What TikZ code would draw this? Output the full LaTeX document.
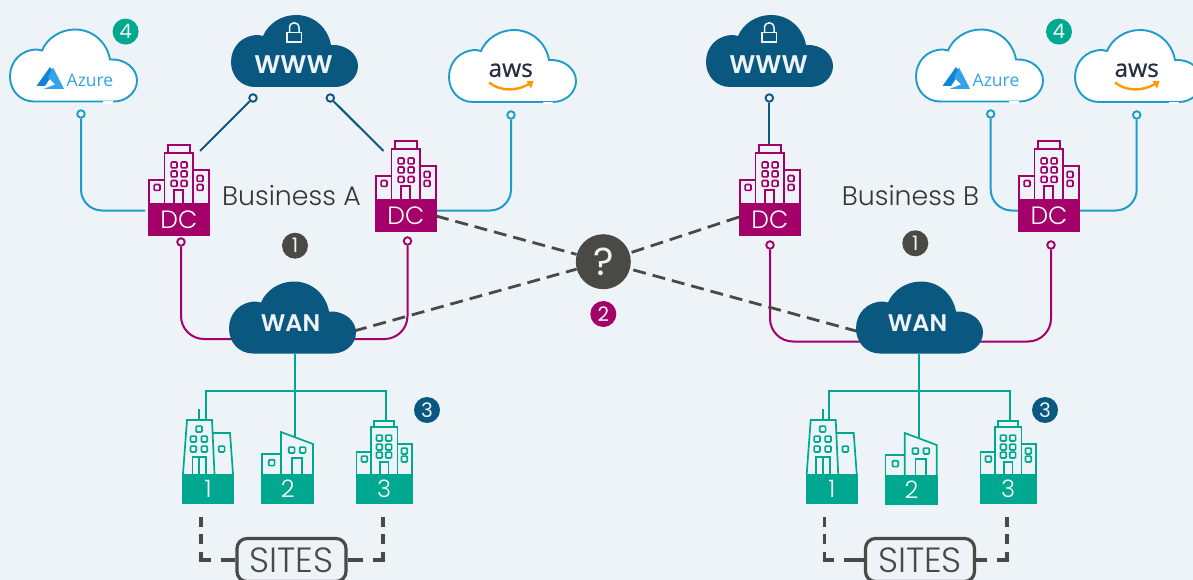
\documentclass[tikz,border=0pt]{standalone}
\usepackage{fontspec}
\setmainfont{Poppins Light}[BoldFont=Poppins SemiBold]
\newfontfamily\logofont{Open Sans}
\newfontfamily\awsfont[FakeBold=0.6]{Open Sans}
\newfontfamily\markfont{Poppins}
\usetikzlibrary{backgrounds}
\definecolor{paper}{HTML}{EEF3F8}
\definecolor{navy}{HTML}{0A577F}
\definecolor{plum}{HTML}{A4006A}
\definecolor{jade}{HTML}{00A88F}
\definecolor{slate}{HTML}{4A4945}
\definecolor{sky}{HTML}{1F9CC9}
\definecolor{ink}{HTML}{363636}
\definecolor{azuredark}{HTML}{0F84DC}
\definecolor{azurelight}{HTML}{35A3E8}
\definecolor{awsdark}{HTML}{232F3E}
\definecolor{awsorange}{HTML}{FF9900}
\newcommand{\win}[2]{\draw[rounded corners=1pt] (#1-2.9,#2-2.9) rectangle ++(5.8,5.8);}
\newcommand{\sz}[1]{\fontsize{#1}{#1}\selectfont}
\tikzset{
  cloudoutline/.style={insert path={(24,72) .. controls (10,72) and (0,61) .. (0,47) .. controls (0,32) and (11,20) .. (27,20) -- (32,21) .. controls (37,9) and (50,0) .. (65,0) .. controls (83,0) and (97,13) .. (100,30) .. controls (115,29) and (127,39) .. (127,51) .. controls (127,63) and (116,72) .. (104,72) -- cycle}},
  pin/.style={circle, draw, fill=paper, line width=1.9pt, minimum size=7.5pt, inner sep=0pt},
  netlink/.style={navy, line width=2pt},
  skylink/.style={sky, line width=2pt, rounded corners=21pt},
  wanlink/.style={plum, line width=2pt, rounded corners=23pt},
  sitelink/.style={jade, line width=2pt},
  askdash/.style={slate, line width=2.8pt, dash pattern=on 13pt off 7pt},
  sitedash/.style={slate, line width=3.8pt, dash pattern=on 10pt off 7pt on 10pt off 8pt on 18pt off 10pt on 20pt},
  badge/.style={circle, minimum size=26pt, inner sep=0pt, text=paper, font=\markfont\sz{20}},
  bigtext/.style={text=ink, font=\sz{26.8}},
  sitesbox/.style={draw=slate, line width=3.2pt, rounded corners=10pt, text=slate, minimum width=109pt, minimum height=43pt, inner sep=0pt, font=\sz{35}},
  band/.style={anchor=north west, inner sep=0pt, text=white},
  wwwcloud/.pic={
    \path[fill=navy, cloudoutline];
    \draw[paper, line width=1.5pt] (56,17.5) rectangle (70.5,27);
    \draw[paper, line width=1.5pt] (58.5,17.5) -- (58.5,13) .. controls (58.5,6) and (68,6) .. (68,13) -- (68,17.5);
    \node[text=paper, font=\sz{25.5}\bfseries, inner sep=0pt] (-label) at (62.5,49.5) {WWW};
  },
  wancloud/.pic={
    \path[fill=navy, cloudoutline];
    \node[text=paper, font=\sz{24}\bfseries, inner sep=0pt] (-label) at (61.5,42) {WAN};
    \coordinate (-bot) at (64,72);
    \coordinate (-west) at (2,50);
    \coordinate (-east) at (125,49.5);
  },
  azurecloud/.pic={
    \path[fill=white, draw=sky, line width=1.9pt, cloudoutline];
    \draw[white, line width=2.8pt] (93,73) -- (103,73);
    \fill[azuredark] (40,37.5) -- (26.5,56.5) -- (35,56.5) -- (44,43) -- cycle;
    \fill[azurelight] (43,38) -- (54,59.3) -- (34,59.3) -- (45,55) -- (38,48) -- cycle;
    \node[text=azurelight, font=\logofont\sz{17.5}, inner sep=0pt] (-label) at (80,50.5) {Azure};
  },
  awscloud/.pic={
    \path[fill=white, draw=sky, line width=1.9pt, cloudoutline];
    \draw[white, line width=2.8pt] (94,73) -- (104,73);
    \node[text=awsdark, font=\awsfont\sz{24.5}, inner sep=0pt] (-label) at (61.7,40.3) {aws};
    \draw[awsorange, line width=2.4pt] (40,52.5) .. controls (52,62) and (68,61) .. (80,54);
    \fill[awsorange] (77.5,51) -- (84.5,51) -- (82,58.5) -- cycle;
  },
  dcbuilding/.pic={
    \begin{scope}[plum, line width=1.7pt]
      \draw (0.7,0) -- (0.7,-23) -- (16.5,-23) -- (16.5,0);
      \draw (16.5,-23) -- (16.5,-50) -- (45,-50) -- (45,0);
      \draw (20,-50) -- (20,-58) -- (42,-58) -- (42,-50);
      \draw (45,-33) -- (60.8,-33) -- (60.8,0);
      \draw (26,0) -- (26,-13) -- (35,-13) -- (35,0);
      \win{26}{-38}\win{36}{-38}
      \win{26}{-29}\win{36}{-29}
      \win{26}{-19.5}\win{36}{-19.5}
      \win{9}{-15.5}
      \win{52}{-24.5}\win{52}{-15.5}
    \end{scope}
    \node[band, fill=plum, minimum width=61.5pt, minimum height=33pt, font=\sz{25}] (-band) at (0,0) {DC};
    \coordinate (-top) at (30.5,-58);
    \coordinate (-ne) at (52,-52);
    \coordinate (-nw) at (8.5,-48);
    \coordinate (-east) at (61,17);
    \coordinate (-west) at (0,14);
  },
  siteone/.pic={
    \begin{scope}[jade, line width=1.7pt]
      \draw (1,0) -- (5,-54) -- (30,-54) -- (32.5,0);
      \draw (31,-41) -- (48,-41) -- (51,0);
      \draw (17,-54) -- (17,-65);
      \draw (10.5,0) -- (10.5,-17) -- (24,-17) -- (24,0);
      \draw (17,-17) -- (17,0);
      \win{17}{-45}
      \win{11.3}{-35}\win{22.3}{-35}
      \win{11.3}{-25}\win{22.3}{-25}
      \win{39.7}{-25}
    \end{scope}
    \node[band, fill=jade, minimum width=52pt, minimum height=30pt, font=\sz{24}] (-band) at (0,0) {1};
    \coordinate (-top) at (23.7,-54);
    \coordinate (-bot) at (18.7,43);
  },
  sitetwo/.pic={
    \begin{scope}[jade, line width=1.7pt]
      \draw (0.7,0) -- (0.7,-20.3) -- (20,-20.3);
      \draw (20,0) -- (20,-42) -- (52,-30) -- (52,0);
      \draw (30.7,0) -- (30.7,-16) -- (41.3,-16) -- (41.3,0);
      \win{10.7}{-11.3}
      \win{30.7}{-24}\win{41.7}{-24}
    \end{scope}
    \node[band, fill=jade, minimum width=53pt, minimum height=30pt, font=\sz{24}] (-band) at (0,0) {2};
    \coordinate (-top) at (34.3,-37);
  },
  sitethree/.pic={
    \begin{scope}[jade, line width=1.7pt]
      \draw (0.7,0) -- (0.7,-22) -- (15.3,-22);
      \draw (15.3,0) -- (15.3,-46.7) -- (41.7,-46.7) -- (41.7,0);
      \draw (18.3,-46.7) -- (18.3,-53.3) -- (38.3,-53.3) -- (38.3,-46.7);
      \draw (41.7,-30.3) -- (56,-30.3) -- (56,0);
      \draw (24,0) -- (24,-12.3) -- (32.7,-12.3) -- (32.7,0);
      \win{23.6}{-36}\win{33}{-36}
      \win{23.6}{-27}\win{33}{-27}
      \win{23.6}{-19}\win{33}{-19}
      \win{8.6}{-15}
      \win{48.6}{-23}\win{48.6}{-15}
    \end{scope}
    \node[band, fill=jade, minimum width=56.6pt, minimum height=30pt, font=\sz{24}] (-band) at (0,0) {3};
    \coordinate (-top) at (30.3,-53.3);
    \coordinate (-bot) at (27.6,43);
  }
}
\begin{document}
\begin{tikzpicture}[x=1pt, y=-1pt]
  \useasboundingbox (0,0) rectangle (1193,580);
  \begin{scope}[on background layer]
    \fill[paper] (0,0) rectangle (1193,580);
  \end{scope}

  % clouds
  \pic (wwwA) at (231,15) {wwwcloud};
  \pic (wwwB) at (706,15) {wwwcloud};
  \pic (azureA) at (10,29.5) {azurecloud};
  \pic (awsA) at (449,30) {awscloud};
  \pic (azureB) at (916,29.5) {azurecloud};
  \pic (awsB) at (1075,30) {awscloud};
  \pic (wanA) at (229,281.5) {wancloud};
  \pic (wanB) at (856,281.5) {wancloud};

  % data centres
  \pic (dcA1) at (148,203) {dcbuilding};
  \pic (dcA2) at (375,199) {dcbuilding};
  \pic (dcB1) at (739,203) {dcbuilding};
  \pic (dcB2) at (1018,199) {dcbuilding};

  % sites
  \pic (siteA1) at (182,474) {siteone};
  \pic (siteA2) at (261,474) {sitetwo};
  \pic (siteA3) at (355.7,474) {sitethree};
  \pic (siteB1) at (805.7,474) {siteone};
  \pic (siteB2) at (884.7,475) {sitetwo};
  \pic (siteB3) at (979.7,474) {sitethree};

  \node[bigtext] (nameA) at (291.5,196) {Business A};
  \node[bigtext] (nameB) at (910.5,196) {Business B};
  \node[sitesbox] (sitesA) at (291.5,560) {SITES};
  \node[sitesbox] (sitesB) at (920,560) {SITES};
  \node[circle, fill=slate, minimum size=55pt, inner sep=0pt, text=paper, font=\markfont\sz{39}] (ask) at (603.3,261.7) {?};

  \node[badge, fill=jade] (fourA) at (125.6,31.6) {4};
  \node[badge, fill=jade] (fourB) at (1059,31.6) {4};
  \node[badge, fill=slate] (oneA) at (295,245.7) {1};
  \node[badge, fill=slate] (oneB) at (915.3,243.3) {1};
  \node[badge, fill=plum] (twoQ) at (603.3,314) {2};
  \node[badge, fill=navy] (threeA) at (427,410) {3};
  \node[badge, fill=navy] (threeB) at (1045,410) {3};

  % pins
  \node[pin, draw=sky] (pinAzA) at (81,114) {};
  \node[pin, draw=sky] (pinAwsA) at (511,115) {};
  \node[pin, draw=sky] (pinAzB) at (990.7,114) {};
  \node[pin, draw=sky] (pinAwsB) at (1136.7,115) {};
  \node[pin, draw=navy] (pinWwwA1) at (253,98) {};
  \node[pin, draw=navy] (pinWwwA2) at (330.3,98) {};
  \node[pin, draw=navy] (pinWwwB) at (769.3,98) {};
  \node[pin, draw=plum] (pinWanA1) at (181,242) {};
  \node[pin, draw=plum] (pinWanA2) at (407.5,241) {};
  \node[pin, draw=plum] (pinWanB1) at (770,245) {};
  \node[pin, draw=plum] (pinWanB2) at (1051,245) {};

  \coordinate (azAend) at (145,210.5);
  \coordinate (awsAend) at (436,210.5);
  \coordinate (azBend) at (1018,210.5);
  \coordinate (awsBend) at (1079,210.5);
  \coordinate (wanAlink) at (292,339);
  \coordinate (wanBlink) at (919,341.5);
  \coordinate (busA) at (295.3,391);
  \coordinate (busB) at (919,391);

  \begin{scope}[on background layer]
    \draw[skylink] (pinAzA) |- (azAend);
    \draw[skylink] (pinAwsA) |- (awsAend);
    \draw[skylink] (pinAzB) |- (azBend);
    \draw[skylink] (pinAwsB) |- (awsBend);

    \draw[netlink] (pinWwwA1) -- (dcA1-ne);
    \draw[netlink] (pinWwwA2) -- (dcA2-nw);
    \draw[netlink] (pinWwwB) -- (pinWwwB |- dcB1-top);

    \draw[wanlink] (pinWanA1) |- (wanAlink);
    \draw[wanlink] (pinWanA2) |- (wanAlink);
    \draw[wanlink] (pinWanB1) |- (wanBlink);
    \draw[wanlink] (pinWanB2) |- (wanBlink);

    \draw[askdash] (dcA2-east) -- (ask);
    \draw[askdash] (wanA-east) -- (ask);
    \draw[askdash] (dcB1-west) -- (ask);
    \draw[askdash] (wanB-west) -- (ask);

    \draw[sitelink] (busA |- wanA-bot) -- (siteA2-top);
    \draw[sitelink] (siteA1-top) |- (busA) -| (siteA3-top);
    \draw[sitelink] (busB |- wanB-bot) -- (siteB2-top);
    \draw[sitelink] (siteB1-top) |- (busB) -| (siteB3-top);
  \end{scope}

  \draw[sitedash] (siteA1-bot) |- (sitesA);
  \draw[sitedash] (siteA3-bot) |- (sitesA);
  \draw[sitedash] (siteB1-bot) |- (sitesB);
  \draw[sitedash] (siteB3-bot) |- (sitesB);
\end{tikzpicture}
\end{document}
